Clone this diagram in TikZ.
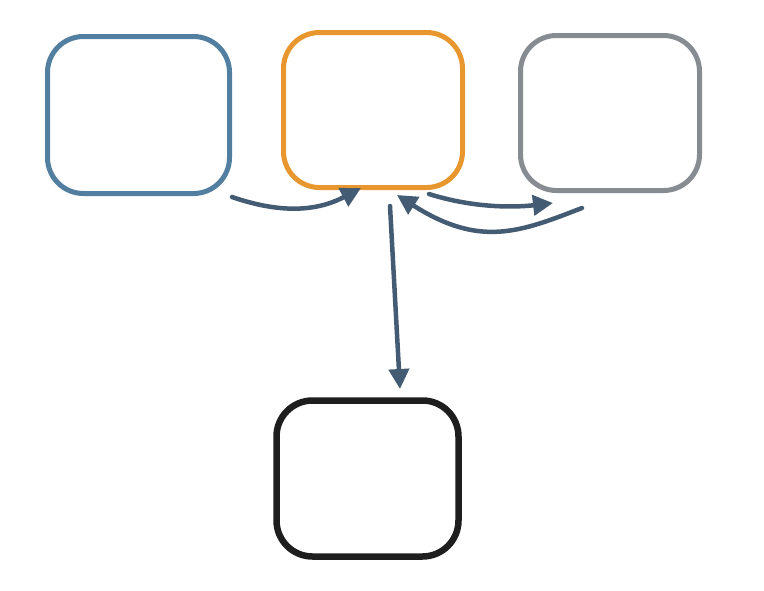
\documentclass[tikz,border=0pt]{standalone}
\usetikzlibrary{arrows.meta}
\definecolor{cblue}{HTML}{527FA0}
\definecolor{corange}{HTML}{E8962E}
\definecolor{cgray}{HTML}{878B92}
\definecolor{cblack}{HTML}{1E1E1E}
\definecolor{carrow}{HTML}{445C73}
\begin{document}
\begin{tikzpicture}[x=1pt,y=-1pt,
  box/.style={draw, line width=5pt, rounded corners=36pt, inner sep=0pt, fill=none},
  conn/.style={draw=carrow, line width=4.5pt, line cap=round, -{Triangle[length=20pt,width=20pt]}}]
\useasboundingbox (0,0) rectangle (764,590);
\node[box, draw=cblue, minimum width=182pt, minimum height=157pt] (blue) at (138.5,115) {};
\node[box, draw=corange, minimum width=179pt, minimum height=155pt] (orange) at (373,110) {};
\node[box, draw=cgray, minimum width=179pt, minimum height=155pt] (gray) at (610,113) {};
\node[box, draw=cblack, line width=6.5pt, minimum width=182pt, minimum height=156pt] (black) at (367.5,478.5) {};
\coordinate (a1s) at (232,197);
\coordinate (a1e) at (361,188);
\coordinate (a2s) at (429,194);
\coordinate (a2e) at (553,203);
\coordinate (a3s) at (582,208);
\coordinate (a3e) at (397,195);
\coordinate (a4s) at (390,206);
\coordinate (a4e) at (400,389);
\draw[conn] (a1s) .. controls (270,210) and (310,215) .. (a1e);
\draw[conn] (a2s) .. controls (470,207) and (510,208) .. (a2e);
\draw[conn] (a3s) .. controls (520,232) and (480,248) .. (a3e);
\draw[conn] (a4s) -- (a4e);
\end{tikzpicture}
\end{document}
